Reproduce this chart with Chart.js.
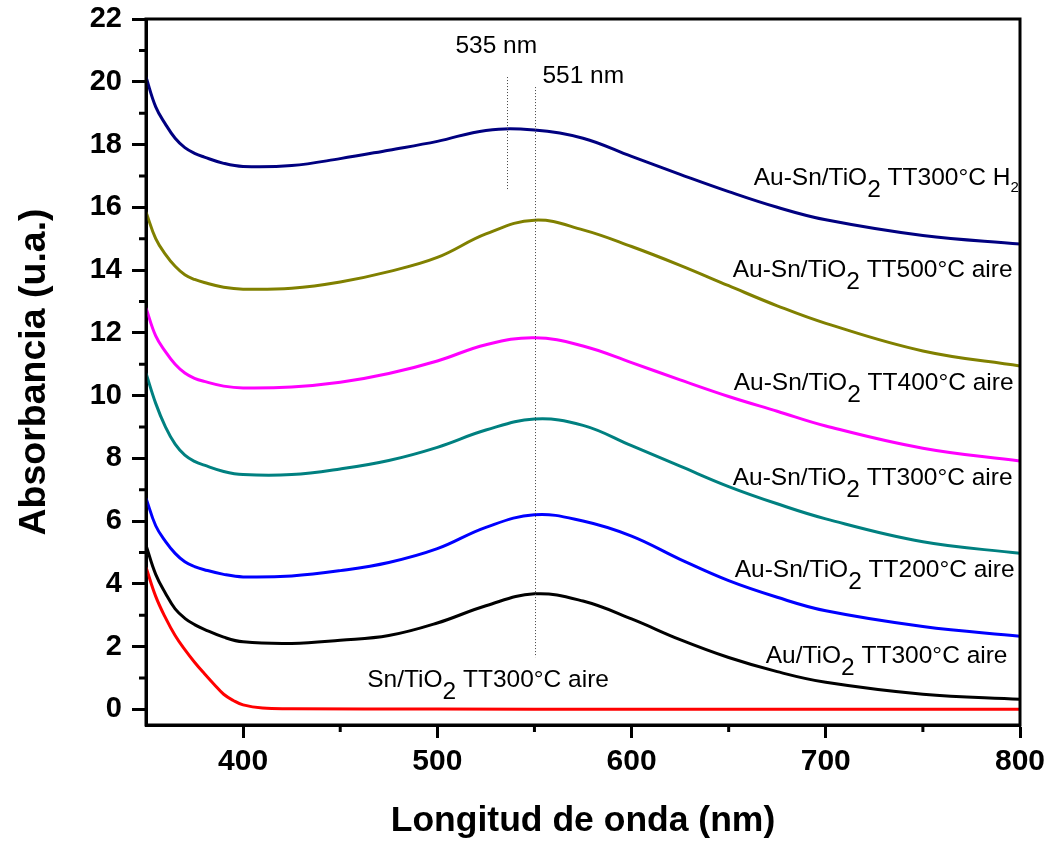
<!DOCTYPE html>
<html><head><meta charset="utf-8">
<script src="https://cdn.jsdelivr.net/npm/chart.js@4/dist/chart.umd.min.js"></script>
<style>html,body{margin:0;padding:0;background:#fff;overflow:hidden}</style>
</head><body>
<canvas id="c" width="1050" height="843"></canvas>
<script>
// ---- data ----
const wavelengths = [350,355,360,365,370,375,380,390,400,425,450,475,500,525,550,575,600,625,650,675,700,750,800];
const absAuSnH2   = [20.15,19.2,18.65,18.2,17.9,17.72,17.6,17.4,17.3,17.33,17.55,17.82,18.1,18.45,18.46,18.2,17.62,17.05,16.5,16.0,15.6,15.1,14.83];
const absAuSn500  = [15.85,15.0,14.5,14.12,13.85,13.7,13.6,13.45,13.39,13.42,13.62,13.95,14.4,15.15,15.59,15.28,14.75,14.15,13.5,12.86,12.3,11.42,10.94];
const absAuSn400  = [12.79,11.9,11.4,11.0,10.72,10.55,10.45,10.3,10.24,10.27,10.42,10.7,11.1,11.62,11.84,11.58,11.05,10.5,9.97,9.5,9.03,8.32,7.91];
const absAuSn300  = [10.71,9.75,9.0,8.45,8.1,7.9,7.78,7.58,7.48,7.48,7.66,7.93,8.35,8.9,9.25,9.05,8.4,7.75,7.1,6.55,6.07,5.34,4.97];
const absAuSn200  = [6.73,5.85,5.35,4.97,4.7,4.55,4.45,4.3,4.22,4.25,4.42,4.68,5.12,5.8,6.2,6.0,5.52,4.78,4.1,3.57,3.14,2.64,2.33];
const absAu300    = [5.23,4.3,3.7,3.2,2.9,2.7,2.55,2.3,2.15,2.1,2.2,2.35,2.75,3.3,3.68,3.45,2.88,2.22,1.65,1.2,0.86,0.48,0.32];
const snWavelengths = [350,355,360,365,370,375,380,385,390,395,400,410,425,500,600,800];
const absSn300    = [4.53,3.6,2.92,2.35,1.9,1.5,1.14,0.8,0.48,0.28,0.14,0.04,0.02,0.01,0.0,0.0];

const xTicks = [400,500,600,700,800];
const xMinorTicks = [450,550,650,750];
const yMinorTicks = [1,3,5,7,9,11,13,15,17,19,21];

// peak marker lines (nm, top value, bottom value)
const peakLines = [
  {nm:536, top:20.15, bottom:16.55},
  {nm:550.5, top:19.83, bottom:1.66}
];
const peakLabels = [
  {text:'535 nm', nm:509.3, val:20.92},
  {text:'551 nm', nm:554.1, val:19.96}
];
// curve labels: parts [text, subscript?]
const curveLabels = [
  {nm:662.9, val:16.71, parts:[['Au-Sn/TiO',0],['2',1],[' TT300°C H',0],['2',2]]},
  {nm:652.1, val:13.78, parts:[['Au-Sn/TiO',0],['2',1],[' TT500°C aire',0]]},
  {nm:652.6, val:10.17, parts:[['Au-Sn/TiO',0],['2',1],[' TT400°C aire',0]]},
  {nm:652.1, val:7.14,  parts:[['Au-Sn/TiO',0],['2',1],[' TT300°C aire',0]]},
  {nm:653.1, val:4.21,  parts:[['Au-Sn/TiO',0],['2',1],[' TT200°C aire',0]]},
  {nm:669.1, val:1.47,  parts:[['Au/TiO',0],['2',1],[' TT300°C aire',0]]},
  {nm:463.9, val:0.70,  parts:[['Sn/TiO',0],['2',1],[' TT300°C aire',0]]}
];

const FONT = "'Liberation Sans', Arial, Helvetica, sans-serif";
const pts = (xs, ys) => xs.map((x,i)=>({x, y: ys[i]}));

const series = [
  {label:'Au-Sn/TiO2 TT300°C H2', xs:wavelengths, ys:absAuSnH2, color:'#000080'},
  {label:'Au-Sn/TiO2 TT500°C aire', xs:wavelengths, ys:absAuSn500, color:'#808000'},
  {label:'Au-Sn/TiO2 TT400°C aire', xs:wavelengths, ys:absAuSn400, color:'#FF00FF'},
  {label:'Au-Sn/TiO2 TT300°C aire', xs:wavelengths, ys:absAuSn300, color:'#008080'},
  {label:'Au-Sn/TiO2 TT200°C aire', xs:wavelengths, ys:absAuSn200, color:'#0000FF'},
  {label:'Au/TiO2 TT300°C aire', xs:wavelengths, ys:absAu300, color:'#000000'},
  {label:'Sn/TiO2 TT300°C aire', xs:snWavelengths, ys:absSn300, color:'#FF0000'}
];

const decor = {
  id:'decor',
  afterDatasetsDraw(chart){
    const {ctx, scales:{x,y}} = chart;
    ctx.save();
    ctx.strokeStyle = '#444';
    ctx.lineWidth = 1;
    ctx.setLineDash([1,2]);
    peakLines.forEach(p=>{
      const px = Math.round(x.getPixelForValue(p.nm))+0.5;
      ctx.beginPath();
      ctx.moveTo(px, y.getPixelForValue(p.top));
      ctx.lineTo(px, y.getPixelForValue(p.bottom));
      ctx.stroke();
    });
    ctx.setLineDash([]);
    ctx.fillStyle = '#000';
    ctx.textBaseline = 'alphabetic';
    ctx.textAlign = 'left';
    ctx.font = `24.5px ${FONT}`;
    peakLabels.forEach(l=>{
      ctx.fillText(l.text, x.getPixelForValue(l.nm), y.getPixelForValue(l.val));
    });
    curveLabels.forEach(l=>{
      let px = x.getPixelForValue(l.nm);
      const py = y.getPixelForValue(l.val);
      l.parts.forEach(([t,sub])=>{
        let dy = 0;
        if (sub===2){ ctx.font = `15px ${FONT}`; dy = 7; }
        else { ctx.font = `24.5px ${FONT}`; dy = sub===1 ? 12 : 0; }
        ctx.fillText(t, px, py+dy);
        px += ctx.measureText(t).width;
      });
    });
    ctx.restore();
  },
  afterDraw(chart){
    const {ctx, chartArea:a, scales:{x,y}} = chart;
    ctx.save();
    ctx.strokeStyle = '#000';
    ctx.lineWidth = 3;
    ctx.strokeRect(a.left, a.top, a.right-a.left, a.bottom-a.top);
    ctx.beginPath();
    yMinorTicks.forEach(v=>{
      const py = y.getPixelForValue(v);
      ctx.moveTo(a.left-7, py); ctx.lineTo(a.left, py);
    });
    xMinorTicks.forEach(v=>{
      const px = x.getPixelForValue(v);
      ctx.moveTo(px, a.bottom); ctx.lineTo(px, a.bottom+7);
    });
    ctx.stroke();
    ctx.restore();
  }
};

new Chart(document.getElementById('c'), {
  type:'line',
  data:{
    datasets: series.map(s=>({
      label:s.label,
      data:pts(s.xs, s.ys),
      borderColor:s.color,
      backgroundColor:s.color,
      borderWidth:3,
      pointRadius:0,
      tension:0.4,
      fill:false
    }))
  },
  options:{
    responsive:false,
    animation:false,
    events:[],
    layout:{padding:{top:19,right:30,left:0,bottom:0}},
    plugins:{legend:{display:false}, tooltip:{enabled:false}},
    scales:{
      x:{
        type:'linear', min:350, max:800,
        afterFit:(s)=>{ s.height = 118; s.paddingLeft = 0; s.paddingRight = 0; },
        ticks:{stepSize:100, includeBounds:false, color:'#000', padding:6,
          font:{family:FONT, size:30, weight:'bold'}, maxRotation:0},
        afterBuildTicks:(s)=>{ s.ticks = xTicks.map(v=>({value:v})); },
        grid:{drawOnChartArea:false, drawTicks:true, tickLength:13, tickWidth:3, tickColor:'#000'},
        border:{display:true, width:3, color:'#000'},
        title:{display:true, text:'Longitud de onda (nm)', color:'#000',
          font:{family:FONT, size:35.5, weight:'bold'}, padding:{top:0,bottom:0}}
      },
      y:{
        min:-0.5, max:22,
        afterFit:(s)=>{ s.width = 146; s.paddingTop = 0; s.paddingBottom = 0; },
        ticks:{stepSize:2, includeBounds:false, color:'#000', padding:10,
          font:{family:FONT, size:29, weight:'bold'}},
        grid:{drawOnChartArea:false, drawTicks:true, tickLength:14, tickWidth:3, tickColor:'#000'},
        border:{display:true, width:3, color:'#000'},
        title:{display:true, text:'Absorbancia (u.a.)', color:'#000',
          font:{family:FONT, size:37.5, weight:'bold'}, padding:{top:12,bottom:0}}
      }
    }
  },
  plugins:[decor]
});
</script>
</body></html>
